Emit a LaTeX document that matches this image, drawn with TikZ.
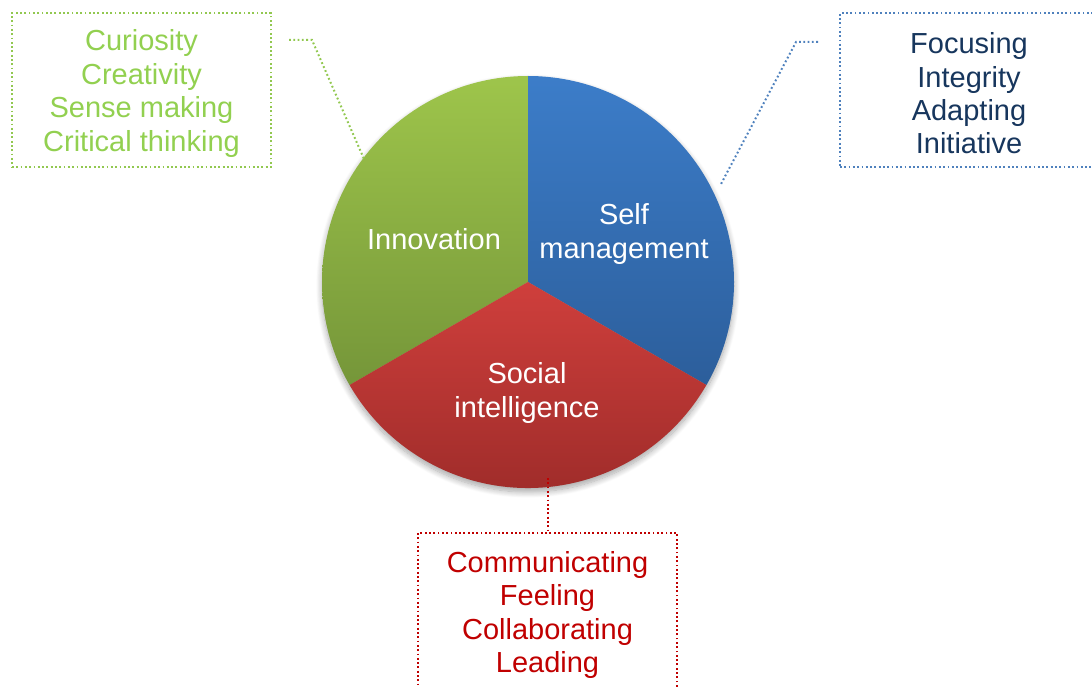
\documentclass[tikz,border=0pt]{standalone}
\usepackage{fontspec}
\setmainfont{Liberation Sans}
\usetikzlibrary{shadows.blur}
\definecolor{gtext}{RGB}{146,208,80}
\definecolor{gline}{RGB}{146,200,80}
\definecolor{btext}{RGB}{23,54,93}
\definecolor{bline}{RGB}{79,129,189}
\definecolor{rtext}{RGB}{192,0,0}
\definecolor{gtop}{RGB}{158,197,75}
\definecolor{gbot}{RGB}{117,150,57}
\definecolor{btop}{RGB}{60,125,201}
\definecolor{bbot}{RGB}{44,94,155}
\definecolor{rtop}{RGB}{207,63,60}
\definecolor{rbot}{RGB}{154,42,40}
\begin{document}
\begin{tikzpicture}[x=0.5pt,y=0.5pt,
  dotline/.style={line width=1pt,dash pattern=on 0.9pt off 1.25pt},
  listbox/.style={dotline,rectangle,inner sep=0pt,
    minimum width=129.5pt,minimum height=77pt},
  listtext/.style={inner sep=0pt,align=center,yshift=-1.75pt,
    font=\fontsize{14.5pt}{16.7pt}\selectfont},
  slicelabel/.style={text=white,align=center,
    font=\fontsize{14.5pt}{16.7pt}\selectfont}]
\useasboundingbox (0,0) rectangle (1092,686);
\clip (0,0) rectangle (1092,686);
\coordinate (c) at (528,404);
% shadow
\path[blur shadow={shadow xshift=0pt,shadow yshift=-2pt,shadow blur radius=3pt,shadow opacity=35,shadow blur steps=10}] (c) circle[radius=103pt];
% slices
\shade[top color=gtop,bottom color=gbot] (c) -- ++(90:103pt) arc[start angle=90,end angle=210,radius=103pt] -- cycle;
\shade[top color=btop,bottom color=bbot] (c) -- ++(90:103pt) arc[start angle=90,end angle=-30,radius=103pt] -- cycle;
\shade[top color=rtop,bottom color=rbot] (c) -- ++(-30:103pt) arc[start angle=-30,end angle=-150,radius=103pt] -- cycle;
% slice labels
\node[slicelabel] (inn) at (434,447) {Innovation};
\node[slicelabel] (self) at (624,452) {Self\\management};
\node[slicelabel] (soc) at (527,293) {Social\\intelligence};
% boxes
\node[listbox,draw=gline] (gbox) at (141.5,596) {};
\node[listtext,text=gtext] (gtxt) at (gbox.center) {Curiosity\\Creativity\\Sense making\\Critical thinking};
\node[listbox,draw=bline,minimum width=129pt] (bbox) at (969,596) {};
\node[listtext,text=btext] (btxt) at (bbox.center) {Focusing\\Integrity\\Adapting\\Initiative};
\node[listbox,draw=rtext,minimum height=78.5pt] (rbox) at (547.5,74.5) {};
\node[listtext,text=rtext] (rtxt) at (rbox.center) {Communicating\\Feeling\\Collaborating\\Leading};
% connectors
\coordinate (g0) at (289,646);
\coordinate (g1) at (312,646);
\coordinate (g2) at (364,527);
\draw[dotline,gline] (g0) -- (g1) -- (g2);
\coordinate (b0) at (818,644);
\coordinate (b1) at (796,644);
\coordinate (b2) at (721,502);
\draw[dotline,bline] (b0) -- (b1) -- (b2);
\coordinate (r0) at (548,208);
\draw[dotline,rtext] (r0) -- (r0 |- rbox.north);
\end{tikzpicture}
\end{document}
